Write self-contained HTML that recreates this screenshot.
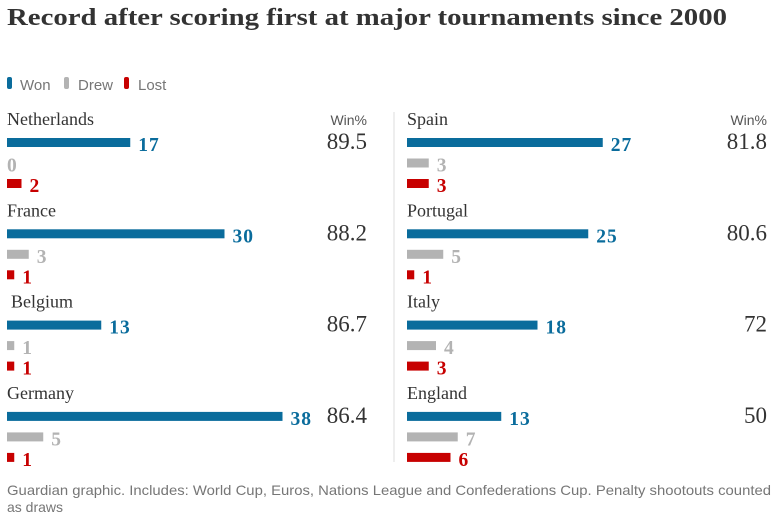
<!DOCTYPE html>
<html><head><meta charset="utf-8"><style>
body{margin:0;background:#fff;width:779px;height:523px;overflow:hidden}
svg{display:block}
</style></head><body>
<svg id="chart" width="779" height="523">
<text x="7" y="25" font-family="Liberation Serif, serif" font-weight="bold" font-size="24" fill="#333" textLength="720" lengthAdjust="spacingAndGlyphs">Record after scoring first at major tournaments since 2000</text>
<g font-family="Liberation Sans, sans-serif" font-size="15" fill="#767676">
<rect x="7" y="77" width="5" height="12" rx="2" fill="#0a6c9c"/>
<text x="20" y="90">Won</text>
<rect x="64" y="77" width="5" height="12" rx="2" fill="#b3b3b3"/>
<text x="78" y="90">Drew</text>
<rect x="124" y="77" width="5" height="12" rx="2" fill="#c70000"/>
<text x="138" y="90">Lost</text>
</g>
<g id="panels"></g>
<text x="7" y="495" font-family="Liberation Sans, sans-serif" font-size="14" fill="#767676" textLength="764" lengthAdjust="spacingAndGlyphs">Guardian graphic. Includes: World Cup, Euros, Nations League and Confederations Cup. Penalty shootouts counted</text>
<text x="7" y="512" font-family="Liberation Sans, sans-serif" font-size="14" fill="#767676">as draws</text>
</svg>
<script>
const teams = ["Netherlands","France","Belgium","Germany","Spain","Portugal","Italy","England"];
const won = [17,30,13,38,27,25,18,13];
const drew = [0,3,1,5,3,5,4,7];
const lost = [2,1,1,1,3,1,3,6];
const winPct = ["89.5","88.2","86.7","86.4","81.8","80.6","72","50"];

const NS="http://www.w3.org/2000/svg";
const g=document.getElementById('panels');
const scale=v=>v*7.25;
const colors=["#0a6c9c","#b3b3b3","#c70000"];
function el(tag,attrs,txt){const e=document.createElementNS(NS,tag);for(const k in attrs)e.setAttribute(k,attrs[k]);if(txt!==undefined)e.textContent=txt;g.appendChild(e);return e;}
const dv=el('line',{x1:394,y1:112,x2:394,y2:462,stroke:'#dcdcdc','stroke-width':1});


teams.forEach((t,i)=>{
  const col=Math.floor(i/4), row=i%4;
  const x0=col?407:7, y0=125+row*91.3;
  const pctX=col?767:367;
  const name=el('text',{x:x0+(t==="Belgium"?4:0),y:y0,'font-family':'Liberation Serif, serif','font-size':18,fill:'#333'},t);
  
  
  if(row===0){
    const h=el('text',{x:pctX,y:y0,'text-anchor':'end','font-family':'Liberation Sans, sans-serif','font-size':14,fill:'#555'},'Win%');
    
    
  }
  const p=el('text',{x:pctX,y:y0+24,'text-anchor':'end','font-family':'Liberation Serif, serif','font-size':23,fill:'#333'},winPct[i]);
  
  
  [won[i],drew[i],lost[i]].forEach((v,k)=>{
    const by=y0+13+k*20.5;
    const w=scale(v);
    const r=el('rect',{x:x0,y:by,width:w,height:9,fill:colors[k]});
    
    
    const lbl=el('text',{x:x0+w+(v?8:0),y:by+13,'font-family':'Liberation Serif, serif','font-weight':'bold','font-size':19.5,'letter-spacing':'1',fill:colors[k]},String(v));
    
    
  });
});
</script>
</body></html>
